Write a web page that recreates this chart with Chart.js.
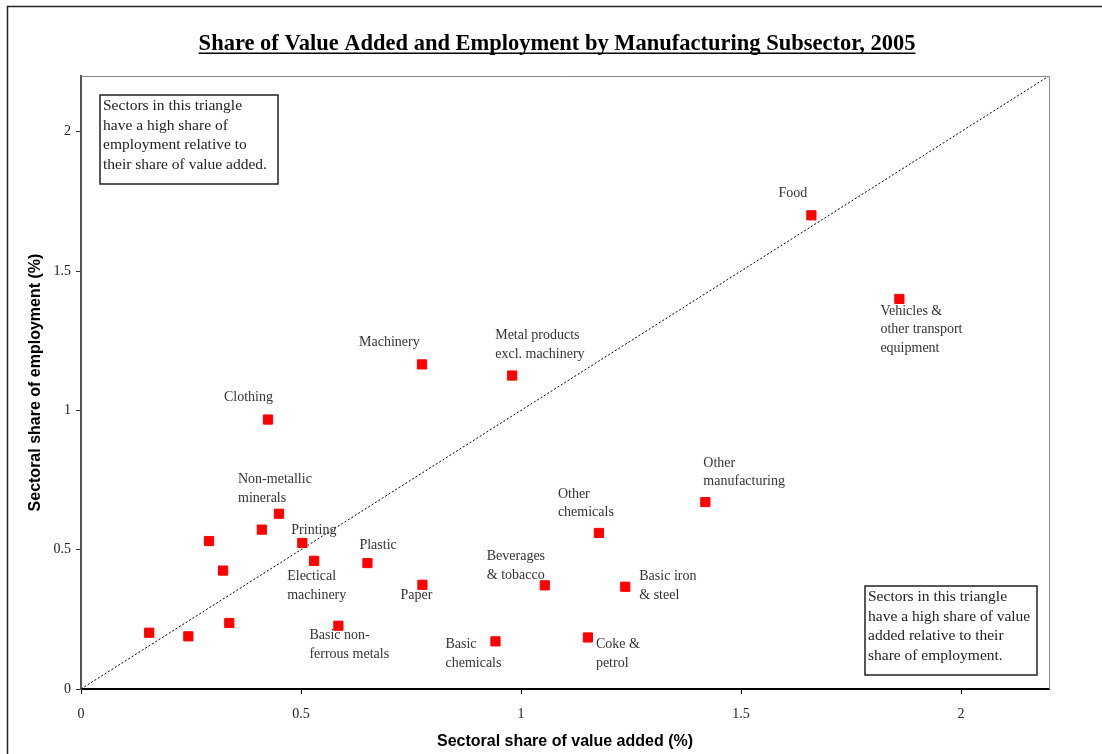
<!DOCTYPE html>
<html>
<head>
<meta charset="utf-8">
<script src="https://cdn.jsdelivr.net/npm/chart.js@4.4.1/dist/chart.umd.min.js"></script>
<style>
  html, body { margin: 0; padding: 0; background: #fff; }
  #wrap { width: 1102px; height: 754px; position: relative; }
</style>
</head>
<body>
<div id="wrap"><canvas id="scatter"></canvas></div>
<script>
// sector names (empty = point has no label in the original)
var sectors = [
  ["Food"],
  ["Vehicles &", "other transport", "equipment"],
  ["Machinery"],
  ["Metal products", "excl. machinery"],
  ["Clothing"],
  ["Other", "manufacturing"],
  ["Other", "chemicals"],
  ["Beverages", "& tobacco"],
  ["Basic iron", "& steel"],
  ["Basic", "chemicals"],
  ["Coke &", "petrol"],
  ["Non-metallic", "minerals"],
  [],
  ["Printing"],
  [],
  ["Electical", "machinery"],
  [],
  ["Plastic"],
  ["Paper"],
  [],
  [],
  [],
  ["Basic non-", "ferrous metals"]
]
var valueAdded = [1.66, 1.86, 0.775, 0.98, 0.425, 1.419, 1.177, 1.054, 1.237, 0.942, 1.152,
  0.45, 0.411, 0.503, 0.291, 0.53, 0.323, 0.651, 0.776, 0.155, 0.244, 0.337, 0.585]
var employment = [1.70, 1.40, 1.165, 1.125, 0.967, 0.671, 0.56, 0.372, 0.367, 0.171, 0.185,
  0.629, 0.572, 0.524, 0.531, 0.46, 0.425, 0.452, 0.374, 0.202, 0.189, 0.237, 0.227]
var tickValues = [0, 0.5, 1, 1.5, 2]
var diagonal = [0, 2.2]

var chartTitle = "Share of Value Added and Employment by Manufacturing Subsector, 2005"
var noteTopLeft = ["Sectors in this triangle", "have a high share of", "employment relative to", "their share of value added."]
var noteBottomRight = ["Sectors in this triangle", "have a high share of value", "added relative to their", "share of employment."]

// where each label sits relative to its point (px): left edge, first line middle
var labelOffsets = [
  [-33, -22], [-19, 12], [-63, -22], [-17, -40], [-44, -22], [-2, -39], [-41, -39],
  [-58, -29], [14, -10], [-50, 3], [8, 7], [-41, -34], null, [-11, -13], null,
  [-27, 16], null, [-8, -18], [-22, 11], null, null, null, [-29, 10]
]

var points = []
for (var i = 0; i < valueAdded.length; i++) {
  points.push({x: valueAdded[i], y: employment[i]})
}

var serif = "'Liberation Serif', 'DejaVu Serif', serif"
var sans = "'Liberation Sans', Arial, sans-serif"

function drawNote(ctx, lines, x, y, w, h) {
  ctx.save()
  ctx.fillStyle = '#fff'
  ctx.fillRect(x, y, w, h)
  ctx.strokeStyle = '#222'
  ctx.lineWidth = 1.5
  ctx.strokeRect(x, y, w, h)
  ctx.fillStyle = '#222'
  ctx.font = "15.5px " + serif
  ctx.textBaseline = 'middle'
  for (var k = 0; k < lines.length; k++) {
    ctx.fillText(lines[k], x + 3, y + 11 + k * 19.7)
  }
  ctx.restore()
}

var extras = {
  id: 'extras',
  afterDatasetsDraw: function(chart) {
    var ctx = chart.ctx
    var area = chart.chartArea
    var xs = chart.scales.x, ys = chart.scales.y

    // top and right edge of plot area
    ctx.save()
    ctx.strokeStyle = '#888'
    ctx.lineWidth = 1
    ctx.beginPath()
    ctx.moveTo(area.left, area.top + 0.5)
    ctx.lineTo(area.right + 0.5, area.top + 0.5)
    ctx.lineTo(area.right + 0.5, area.bottom)
    ctx.stroke()

    // outer frame
    ctx.strokeStyle = '#222'
    ctx.lineWidth = 1.5
    ctx.beginPath()
    ctx.moveTo(7.5, chart.height)
    ctx.lineTo(7.5, 6.5)
    ctx.lineTo(chart.width, 6.5)
    ctx.stroke()
    ctx.restore()

    // point labels
    ctx.save()
    ctx.fillStyle = '#333'
    ctx.font = "14px " + serif
    ctx.textBaseline = 'middle'
    for (var i = 0; i < sectors.length; i++) {
      if (!labelOffsets[i]) continue
      var px = xs.getPixelForValue(valueAdded[i])
      var py = ys.getPixelForValue(employment[i])
      for (var k = 0; k < sectors[i].length; k++) {
        ctx.fillText(sectors[i][k], px + labelOffsets[i][0], py + labelOffsets[i][1] + k * 18.5)
      }
    }
    ctx.restore()

    // note boxes
    drawNote(ctx, noteTopLeft, area.left + 19, area.top + 19, 178, 89)
    drawNote(ctx, noteBottomRight, area.right - 184, area.bottom - 103, 172, 89)

    // underlined title
    ctx.save()
    ctx.font = "bold 22.5px " + serif
    ctx.fillStyle = '#000'
    ctx.textAlign = 'center'
    ctx.textBaseline = 'alphabetic'
    var cx = chart.width / 2 + 6
    ctx.fillText(chartTitle, cx, 50)
    var tw = ctx.measureText(chartTitle).width
    ctx.fillRect(cx - tw / 2, 52.5, tw, 1.5)
    ctx.restore()
  }
}

new Chart(document.getElementById('scatter'), {
  type: 'scatter',
  data: {
    datasets: [
      {
        label: 'Sectors',
        data: points,
        pointStyle: 'rect',
        pointRadius: 6.5,
        pointBackgroundColor: '#ff0000',
        pointBorderColor: '#ff0000',
        pointBorderWidth: 1,
        order: 0
      },
      {
        label: '45 degree line',
        data: [{x: diagonal[0], y: diagonal[0]}, {x: diagonal[1], y: diagonal[1]}],
        showLine: true,
        borderColor: '#000',
        borderWidth: 1,
        borderDash: [2, 2],
        pointRadius: 0,
        order: 1
      }
    ]
  },
  options: {
    responsive: true,
    maintainAspectRatio: false,
    animation: false,
    layout: { padding: { top: 76, right: 53, left: 0, bottom: 0 } },
    plugins: {
      legend: { display: false },
      tooltip: { enabled: false },
      title: { display: false }
    },
    scales: {
      x: {
        type: 'linear',
        min: 0,
        max: 2.2,
        afterFit: function(s) { s.height = 65 },
        afterBuildTicks: function(s) { s.ticks = tickValues.map(function(v) { return {value: v} }) },
        grid: { drawOnChartArea: false, drawTicks: true, tickLength: 5, tickColor: '#000' },
        border: { color: '#000', width: 2 },
        ticks: {
          padding: 12,
          color: '#222',
          font: { family: serif, size: 14 },
          callback: function(v) { return String(v) }
        },
        title: {
          display: true,
          text: 'Sectoral share of value added (%)',
          color: '#000',
          font: { family: sans, size: 16, weight: 'bold' },
          padding: { top: 0, bottom: 3 }
        }
      },
      y: {
        type: 'linear',
        min: 0,
        max: 2.2,
        afterFit: function(s) { s.width = 81 },
        afterBuildTicks: function(s) { s.ticks = tickValues.map(function(v) { return {value: v} }) },
        grid: { drawOnChartArea: false, drawTicks: true, tickLength: 5, tickColor: '#333' },
        border: { color: '#555', width: 2 },
        ticks: {
          padding: 5,
          color: '#222',
          font: { family: serif, size: 14 },
          callback: function(v) { return String(v) }
        },
        title: {
          display: true,
          text: 'Sectoral share of employment (%)',
          color: '#000',
          font: { family: sans, size: 16, weight: 'bold' },
          padding: { top: 25.5, bottom: 0 }
        }
      }
    }
  },
  plugins: [extras]
})
</script>
</body>
</html>
